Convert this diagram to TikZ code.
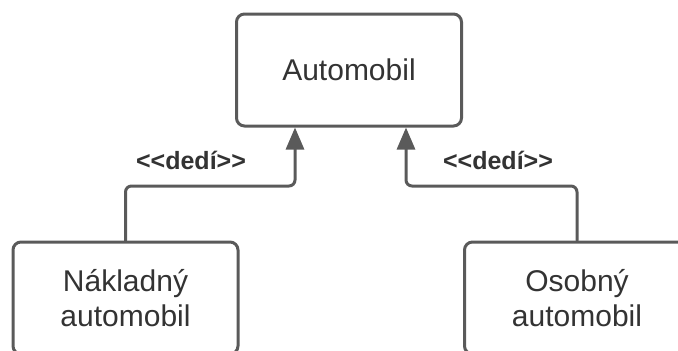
\documentclass[tikz,border=0pt]{standalone}
\usepackage{fontspec}
\setmainfont{Liberation Sans}
\usetikzlibrary{arrows.meta}
\definecolor{linegray}{HTML}{5A5A5A}
\definecolor{textgray}{HTML}{333333}
\tikzset{
  trida/.style={draw=linegray, line width=3pt, rounded corners=8pt, minimum width=225pt, minimum height=112pt,
    align=center, text=textgray, font=\fontsize{30}{35}\selectfont, inner sep=0pt},
  dedi/.style={draw=linegray, line width=3pt, rounded corners=6pt, -{Triangle[length=22pt,width=18pt]}},
  stereo/.style={text=textgray, font=\fontsize{25}{30}\selectfont\bfseries}
}
\begin{document}
\begin{tikzpicture}[x=1pt, y=-1pt, line join = round, line cap = round]
			\useasboundingbox (0,0) rectangle (678,351);
			\node[trida] (auto) at (349,70) {Automobil};
			\node[trida] (nakl) at (125.5,298) {Nákladný\\automobil};
			\node[trida] (osob) at (577,298) {Osobný\\automobil};
			\coordinate (lroh) at (295,186);
			\coordinate (proh) at (406,186);
			\draw[dedi] (nakl.north) |- (lroh) -- (lroh |- auto.south);
			\draw[dedi] (osob.north) |- (proh) -- (proh |- auto.south);
			\node[stereo] (lpopis) at (191,160) {{<}{<}dedí{>}{>}};
			\node[stereo] (ppopis) at (498,160) {{<}{<}dedí{>}{>}};
		\end{tikzpicture}
\end{document}
